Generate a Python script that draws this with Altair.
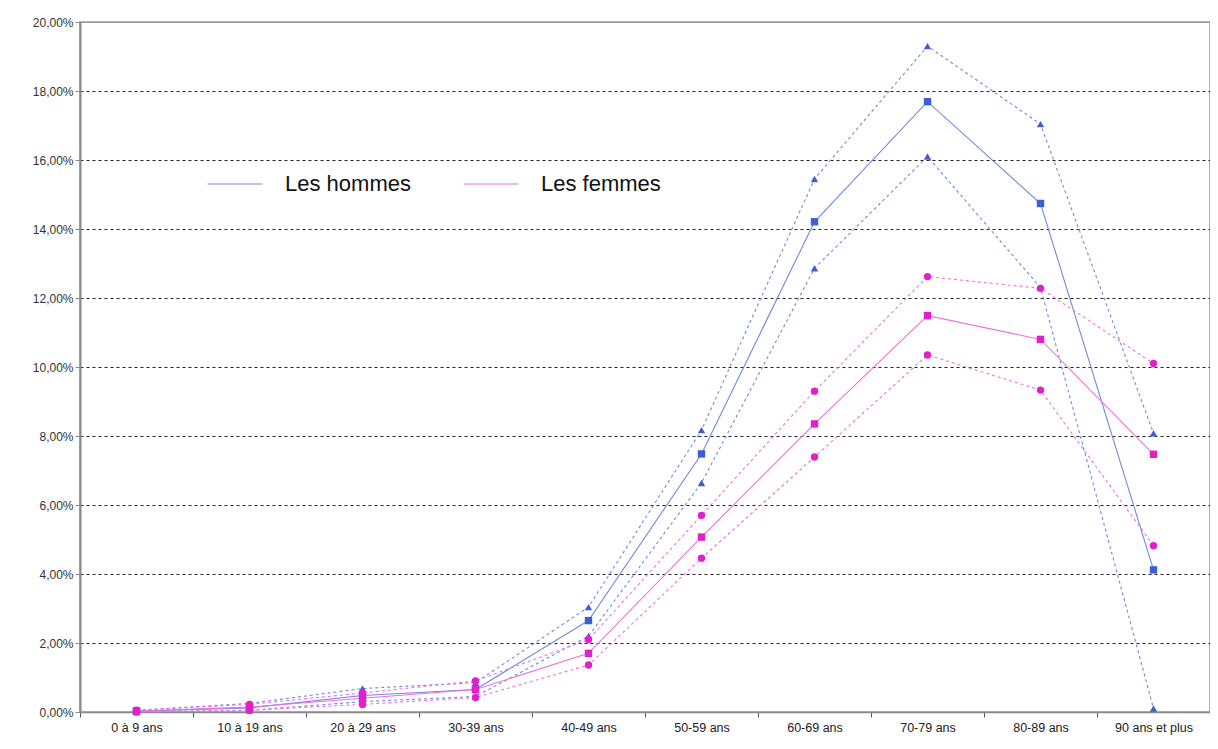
import altair as alt
import pandas as pd

categories = ["0 à 9 ans", "10 à 19 ans", "20 à 29 ans", "30-39 ans", "40-49 ans",
              "50-59 ans", "60-69 ans", "70-79 ans", "80-89 ans", "90 ans et plus"]

# values in percent
hommes = [0.02, 0.12, 0.48, 0.65, 2.65, 7.48, 14.21, 17.69, 14.74, 4.12]
hommes_haut = [0.05, 0.25, 0.68, 0.85, 3.04, 8.17, 15.45, 19.30, 17.04, 8.08]
hommes_bas = [0.0, 0.05, 0.30, 0.45, 2.20, 6.64, 12.86, 16.10, 12.30, 0.10]
femmes = [0.03, 0.14, 0.40, 0.65, 1.70, 5.07, 8.35, 11.49, 10.80, 7.47]
femmes_haut = [0.05, 0.22, 0.55, 0.90, 2.10, 5.70, 9.30, 12.62, 12.28, 10.10]
femmes_bas = [0.0, 0.05, 0.22, 0.42, 1.36, 4.46, 7.39, 10.35, 9.33, 4.82]

legend_labels = ["Les hommes", "Les femmes"]
y_ticks = [0, 0.02, 0.04, 0.06, 0.08, 0.10, 0.12, 0.14, 0.16, 0.18, 0.20]

BLUE_LINE = "#6f8ae0"
BLUE_MARK = "#3f5fd0"
PINK_LINE = "#f070e0"
PINK_MARK = "#e020c8"

series = [
    (hommes, BLUE_LINE, BLUE_MARK, "square", False),
    (hommes_haut, BLUE_LINE, BLUE_MARK, "triangle-up", True),
    (hommes_bas, BLUE_LINE, BLUE_MARK, "triangle-up", True),
    (femmes, PINK_LINE, PINK_MARK, "square", False),
    (femmes_haut, PINK_LINE, PINK_MARK, "circle", True),
    (femmes_bas, PINK_LINE, PINK_MARK, "circle", True),
]

W, H = 1130, 690
step = W / len(categories)

x_axis = alt.Axis(title=None, labelAngle=0, tickOffset=-step / 2, labelOffset=step / 2,
                  labelFont="Liberation Sans", labelFontSize=12.5, labelColor="#222",
                  domainColor="#888", domainWidth=1.5, tickColor="#555", tickSize=5,
                  labelPadding=4)
y_axis = alt.Axis(title=None, values=y_ticks,
                  labelExpr="replace(format(datum.value, '.2%'), '.', ',')",
                  labelFont="Liberation Sans", labelFontSize=12, labelColor="#333",
                  domainColor="#888", domainWidth=2, tickColor="#888", tickSize=5,
                  grid=True,
                  gridColor={"condition": {"test": "datum.value >= 0.2", "value": "#999999"}, "value": "#222222"},
                  gridDash={"condition": {"test": "datum.value >= 0.2", "value": []}, "value": [3, 3]},
                  gridWidth=1)

xenc = alt.X("age:N", sort=categories,
             scale=alt.Scale(type="point", padding=0.5), axis=x_axis)
yenc = alt.Y("taux:Q", scale=alt.Scale(domain=[0, 0.2], nice=False), axis=y_axis)

layers = []
for vals, lc, mc, shape, dashed in series:
    df = pd.DataFrame({"age": categories, "taux": [v / 100 for v in vals]})
    line_kw = dict(strokeWidth=1.1, color=lc)
    if dashed:
        line_kw["strokeDash"] = [3, 3]
    line = alt.Chart(df).mark_line(**line_kw).encode(x=xenc, y=yenc)
    pts = alt.Chart(df).mark_point(filled=True, opacity=1, shape=shape, size=55,
                                   color=mc).encode(x=xenc, y=yenc)
    layers += [line, pts]

# legend (line samples only)
leg_df = pd.DataFrame({"sexe": legend_labels, "age": [categories[0]] * 2, "taux": [0.0, 0.0]})
legend_layer = alt.Chart(leg_df).mark_line(opacity=0).encode(
    x=xenc, y=yenc,
    color=alt.Color("sexe:N",
                    scale=alt.Scale(domain=legend_labels, range=[BLUE_LINE, PINK_LINE]),
                    legend=alt.Legend(title=None, orient="none", legendX=127, legendY=134,
                                      direction="horizontal", symbolType="stroke",
                                      symbolSize=3000, symbolStrokeWidth=1.2, symbolOpacity=1,
                                      labelFont="Liberation Sans", labelFontSize=22,
                                      labelColor="#111", labelOffset=22,
                                      columnPadding=50)))
layers.append(legend_layer)

chart = alt.layer(*layers).properties(
    width=W, height=H,
    autosize=alt.AutoSizeParams(type="none"),
    padding={"left": 72, "top": 14, "right": 0, "bottom": 24},
    background="white",
).configure_view(stroke="#999999", strokeWidth=1.5)

chart.save("out.html", embed_options={"renderer": "svg", "actions": False})
